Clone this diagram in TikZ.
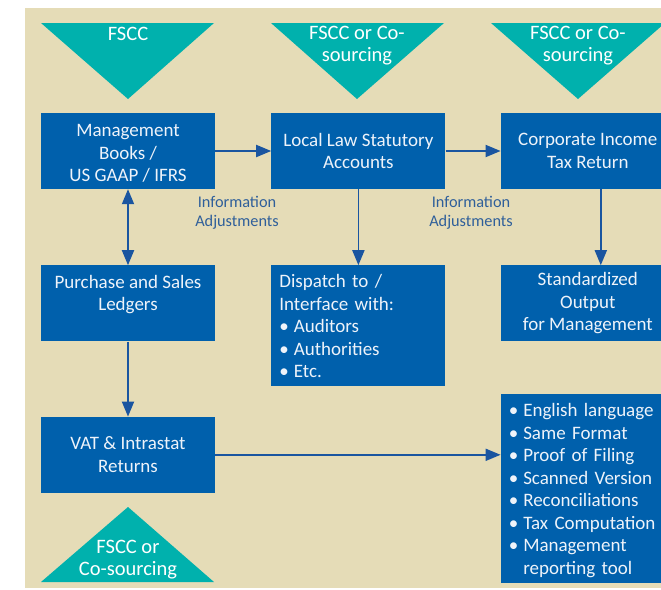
\documentclass[tikz,border=0pt]{standalone}
\usepackage{fontspec}
\setmainfont{Carlito}
\usepackage{xcolor}
\usepackage{tikz}
\usetikzlibrary{arrows.meta}
\usetikzlibrary{positioning}
\definecolor{paper}{HTML}{E5DCB7}
\definecolor{boxblue}{HTML}{0060AC}
\definecolor{boxtext}{HTML}{EEF3FA}
\definecolor{tealtri}{HTML}{00B1AD}
\definecolor{linkblue}{HTML}{1A55A0}
\definecolor{infoblue}{HTML}{2F5F9A}

\begin{document}
\begin{tikzpicture}
[x=1pt, y=-1pt,
 box/.style={rectangle, fill=boxblue, text=boxtext, align=center, inner sep=0pt, minimum height=76pt, minimum width=174pt, font=\fontsize{19}{22.5}\selectfont},
 listbox/.style={box, align=left, text width=158pt, inner xsep=8pt},
 tri/.style={fill=tealtri},
 tritext/.style={text=white, align=center, inner sep=0pt, font=\fontsize{20.5}{22.5}\selectfont},
 info/.style={text=infoblue, align=center, inner sep=0pt, font=\fontsize{16.3}{18.7}\selectfont},
 link/.style={draw=linkblue, line width=1.8pt, -{Triangle[length=15pt,width=12pt]}},
 link2/.style={link, {Triangle[length=15pt,width=12pt]}-{Triangle[length=15pt,width=12pt]}},]
\useasboundingbox (0,0) rectangle (661,589);
\clip (0,0) rectangle (661,589);
\fill[paper] (25,8) rectangle (670,588);
\fill[tri] (41,23) -- (214,23) -- (128,99) -- cycle;
\fill[tri] (271,23) -- (444,23) -- (357,99) -- cycle;
\fill[tri] (491,23) -- (665,23) -- (578,99) -- cycle;
\fill[tri] (41,582) -- (214,582) -- (128,507) -- cycle;
\node[tritext] (T1) at (128,34) {FSCC};
\node[tritext] (T2) at (357,45.5) {FSCC or Co-\\sourcing};
\node[tritext] (T3) at (578,45.5) {FSCC or Co-\\sourcing};
\node[tritext] (T4) at (128,559.5) {FSCC or\\Co-sourcing};
\node[box] (mgmt) at (128,151) {\rule{0pt}{17pt}Management\\Books /\\US GAAP / IFRS};
\node[box] (local) [right=56pt of mgmt] {Local Law Statutory\\Accounts};
\node[box] (corp) [right=55pt of local] {Corporate Income\\Tax Return};
\node[box] (purch) [below=76pt of mgmt] {\rule{0pt}{21pt}Purchase and Sales\\\strut Ledgers\\\strut};
\node[box] (vat) [below=75pt of purch] {VAT \& Intrastat\\Returns};
\node[listbox, minimum height=121pt] (disp) [below=76pt of local] {\begin{tabular}{@{}l@{\hspace{5pt}}l@{}}
\multicolumn{2}{@{}l@{}}{\rule{0pt}{20pt}Dispatch to /}\\
\multicolumn{2}{@{}l@{}}{Interface with:}\\
• & Auditors\\
• & Authorities\\
• & Etc.
\end{tabular}};
\node[box] (std) [below=76pt of corp] {Standardized\\Output\\for Management};
\node[listbox, minimum height=189pt, inner xsep=6pt] (out) [below=52pt of std] {\begin{tabular}{@{}l@{\hspace{5pt}}l@{}}
\rule{0pt}{21pt}• & English language\\
• & Same Format\\
• & Proof of Filing\\
• & Scanned Version\\
• & Reconciliations\\
• & Tax Computation\\
• & Management\\
  & reporting tool
\end{tabular}};
\node[info] (info1) at (237,213) {Information\\Adjustments};
\node[info] (info2) at (471,213) {Information\\Adjustments};
\draw[link] (mgmt) -- (local);
\draw[link] (local) -- (corp);
\draw[link2] (mgmt) -- (purch);
\draw[link] (purch) -- (vat);
\draw[link] (local) -- (disp);
\draw[link] ([xshift=13pt]corp.south) -- ([xshift=13pt]std.north);
\draw[link] (vat.east) -- (vat.east -| out.west);
\end{tikzpicture}
\end{document}
